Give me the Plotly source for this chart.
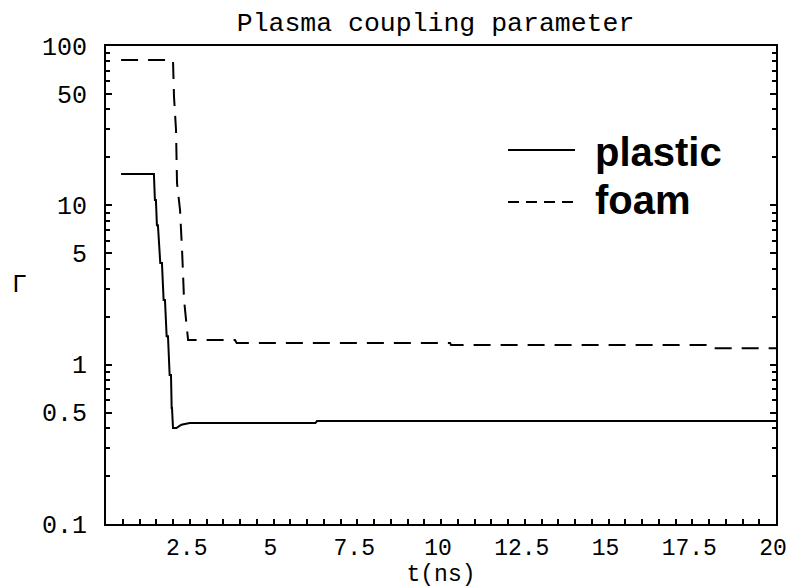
import plotly.graph_objects as go

# Plastic (solid)
t_plastic = [0.45, 1.43, 1.46, 1.49, 1.52, 1.55, 1.62, 1.67, 1.72, 1.76, 1.81, 1.85, 1.9, 1.94, 1.96, 1.97, 2.0, 2.1, 2.25, 2.5, 6.25, 6.3, 20.0]
g_plastic = [15.7, 15.7, 10.8, 10.8, 7.5, 7.5, 4.35, 4.35, 2.55, 2.55, 1.51, 1.51, 0.86, 0.86, 0.535, 0.535, 0.40, 0.40, 0.42, 0.43, 0.43, 0.443, 0.443]

# Foam (dashed)
t_foam = [0.45, 2.0, 2.03, 2.09, 2.12, 2.21, 2.27, 2.33, 2.42, 2.45, 3.85, 3.9, 10.27, 10.3, 18.0, 18.05, 20.0]
g_foam = [81.8, 81.8, 47.9, 29.7, 13.8, 9.35, 5.25, 2.55, 1.65, 1.43, 1.43, 1.37, 1.37, 1.33, 1.33, 1.27, 1.27]

x_ticks = [2.5, 5, 7.5, 10, 12.5, 15, 17.5, 20]
x_tick_text = ["2.5", "5", "7.5", "10", "12.5", "15", "17.5", "20"]
y_ticks = [0.1, 0.5, 1, 5, 10, 50, 100]
y_tick_text = ["0.1", "0.5", "1", "5", "10", "50", "100"]
y_minor = [m * 10 ** e for e in (-1, 0, 1) for m in range(2, 10)]

series_names = ["plastic", "foam"]

MONO = "Liberation Mono"

fig = go.Figure()
fig.add_trace(go.Scatter(x=t_plastic, y=g_plastic, mode="lines", name=series_names[0],
                         line=dict(color="black", width=2), showlegend=False))
fig.add_trace(go.Scatter(x=t_foam, y=g_foam, mode="lines", name=series_names[1],
                         line=dict(color="black", width=2, dash="17px,10px"), showlegend=False))

# legend drawn as shapes + text
leg_font = dict(family="Liberation Sans", size=40, color="black")
fig.add_shape(type="line", xref="paper", yref="paper",
              x0=(508 - 106) / 670, x1=(575 - 106) / 670, y0=(524 - 150) / 478, y1=(524 - 150) / 478,
              line=dict(color="black", width=2))
fig.add_shape(type="line", xref="paper", yref="paper",
              x0=(508 - 106) / 670, x1=(575 - 106) / 670, y0=(524 - 202) / 478, y1=(524 - 202) / 478,
              line=dict(color="black", width=2, dash="11px,7px"))
fig.add_annotation(text="<b>" + series_names[0] + "</b>", xref="paper", yref="paper",
                   x=(593 - 106) / 670, y=(524 - 152) / 478, xanchor="left", yanchor="middle",
                   showarrow=False, font=leg_font)
fig.add_annotation(text="<b>" + series_names[1] + "</b>", xref="paper", yref="paper",
                   x=(593 - 106) / 670, y=(524 - 200) / 478, xanchor="left", yanchor="middle",
                   showarrow=False, font=leg_font)
# y-axis label (unrotated)
fig.add_annotation(text="Γ", xref="paper", yref="paper",
                   x=(19 - 106) / 670, y=(524 - 285) / 478, xanchor="center", yanchor="middle",
                   showarrow=False, font=dict(family=MONO, size=25, color="black"))

fig.update_layout(
    width=789, height=588,
    margin=dict(l=106, r=13, t=46, b=64, autoexpand=False),
    paper_bgcolor="white", plot_bgcolor="white",
    font=dict(family=MONO, size=24, color="black"),
    title=dict(text="Plasma coupling parameter", x=0.552, xref="container", xanchor="center",
               y=1 - 22 / 588, yref="container", yanchor="middle",
               font=dict(family=MONO, size=26.5, color="black")),
    xaxis=dict(range=[0, 20], tickvals=x_ticks, ticktext=x_tick_text, automargin=False,
               ticks="inside", ticklen=5, tickwidth=2, tickcolor="black",
               showline=True, linecolor="black", linewidth=2, mirror=True,
               showgrid=False, zeroline=False, ticklabeloverflow="allow",
               tickfont=dict(family=MONO, size=23), ticklabelstandoff=1, ticklabelshift=-3,
               minor=dict(dtick=0.5, tick0=0, ticks="inside", ticklen=5, tickwidth=2, tickcolor="black", showgrid=False),
               title=dict(text="t(ns)", font=dict(family=MONO, size=23), standoff=2)),
    yaxis=dict(type="log", range=[-1, 2], tickvals=y_ticks, ticktext=y_tick_text, automargin=False,
               ticks="inside", ticklen=6, tickwidth=2, tickcolor="black",
               showline=True, linecolor="black", linewidth=2, mirror="ticks",
               showgrid=False, zeroline=False, ticklabeloverflow="allow",
               tickfont=dict(family=MONO, size=25), ticklabelstandoff=12,
               minor=dict(tickvals=y_minor, ticks="inside", ticklen=4, tickwidth=2, tickcolor="black", showgrid=False)),
)

fig.write_html("out.html")
